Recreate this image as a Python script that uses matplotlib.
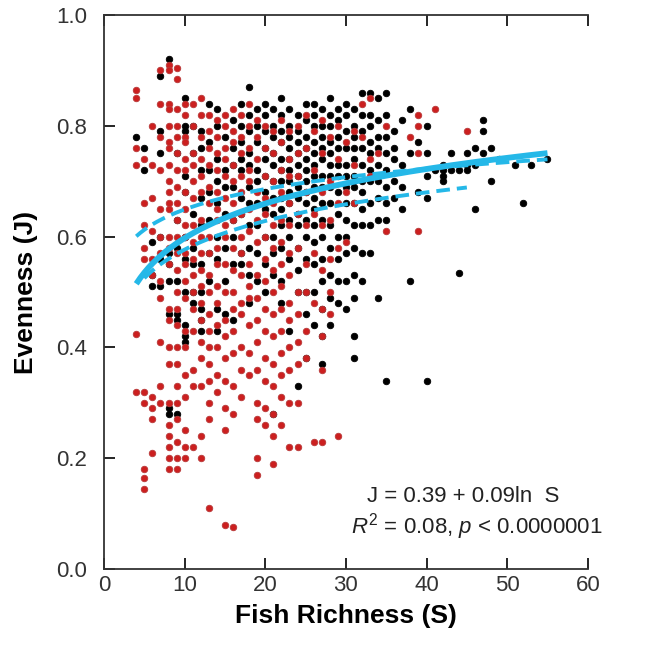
import numpy as np
import matplotlib.pyplot as plt

# Evenness (J) por riqueza (S), sitios en negro
black_J = {
    4: [0.78], 5: [0.76, 0.72], 6: [0.59, 0.53, 0.51],
    7: [0.89, 0.79, 0.75, 0.60, 0.56, 0.51], 8: [0.92, 0.57, 0.55, 0.52, 0.46, 0.29, 0.28],
    9: [0.75, 0.63, 0.58, 0.52, 0.46, 0.45, 0.28],
    10: [0.85, 0.80, 0.79, 0.71, 0.68, 0.60, 0.56, 0.50, 0.44, 0.42, 0.41],
    11: [0.80, 0.75, 0.64, 0.58, 0.55, 0.50, 0.48],
    12: [0.79, 0.76, 0.72, 0.67, 0.62, 0.55, 0.50, 0.47, 0.45, 0.43],
    13: [0.84, 0.77, 0.72, 0.68, 0.63, 0.57, 0.52],
    14: [0.83, 0.80, 0.74, 0.70, 0.66, 0.60, 0.56, 0.47, 0.43],
    15: [0.78, 0.72, 0.69, 0.64, 0.58, 0.52, 0.46],
    16: [0.81, 0.76, 0.73, 0.69, 0.63, 0.60, 0.55, 0.45],
    17: [0.84, 0.80, 0.77, 0.74, 0.72, 0.67, 0.64, 0.57, 0.55],
    18: [0.87, 0.82, 0.79, 0.75, 0.73, 0.69, 0.66, 0.62, 0.58, 0.53, 0.48],
    19: [0.83, 0.80, 0.77, 0.72, 0.70, 0.66, 0.62, 0.57, 0.52],
    20: [0.84, 0.82, 0.79, 0.76, 0.74, 0.71, 0.68, 0.65, 0.60, 0.55, 0.50],
    21: [0.83, 0.80, 0.78, 0.75, 0.73, 0.70, 0.67, 0.64, 0.60, 0.57, 0.53, 0.28],
    22: [0.85, 0.82, 0.79, 0.77, 0.74, 0.72, 0.70, 0.67, 0.65, 0.62, 0.58, 0.52, 0.48],
    23: [0.83, 0.80, 0.78, 0.76, 0.74, 0.72, 0.70, 0.68, 0.66, 0.63, 0.60, 0.56, 0.43],
    24: [0.82, 0.79, 0.77, 0.75, 0.73, 0.71, 0.69, 0.67, 0.64, 0.62, 0.58, 0.54, 0.50, 0.33],
    25: [0.84, 0.81, 0.78, 0.76, 0.74, 0.72, 0.70, 0.68, 0.66, 0.63, 0.60, 0.56, 0.50, 0.46, 0.38],
    26: [0.84, 0.82, 0.80, 0.77, 0.75, 0.73, 0.71, 0.69, 0.67, 0.65, 0.62, 0.59, 0.55, 0.50, 0.44],
    27: [0.83, 0.80, 0.78, 0.76, 0.74, 0.71, 0.69, 0.66, 0.63, 0.60, 0.56, 0.52, 0.47, 0.42, 0.37],
    28: [0.85, 0.82, 0.80, 0.77, 0.75, 0.73, 0.71, 0.69, 0.66, 0.62, 0.58, 0.53, 0.49, 0.44],
    29: [0.83, 0.81, 0.78, 0.76, 0.73, 0.71, 0.68, 0.64, 0.60, 0.56, 0.52, 0.48],
    30: [0.84, 0.82, 0.79, 0.76, 0.73, 0.71, 0.69, 0.66, 0.63, 0.60, 0.57, 0.52, 0.47],
    31: [0.83, 0.80, 0.78, 0.76, 0.74, 0.71, 0.69, 0.66, 0.62, 0.58, 0.53, 0.49, 0.42, 0.38],
    32: [0.86, 0.82, 0.79, 0.76, 0.73, 0.70, 0.68, 0.65, 0.62, 0.57, 0.52],
    33: [0.86, 0.82, 0.80, 0.77, 0.75, 0.72, 0.70, 0.66, 0.62, 0.57],
    34: [0.85, 0.81, 0.78, 0.76, 0.73, 0.70, 0.67, 0.63, 0.49],
    35: [0.86, 0.82, 0.78, 0.75, 0.72, 0.69, 0.66, 0.63, 0.34],
    36: [0.79, 0.76, 0.74, 0.70, 0.67], 37: [0.81, 0.73, 0.69, 0.65],
    38: [0.83, 0.75, 0.52], 39: [0.77, 0.68], 40: [0.80, 0.75, 0.71, 0.67, 0.34],
    41: [0.72], 42: [0.73, 0.72, 0.71, 0.70], 43: [0.75, 0.72], 44: [0.72, 0.535],
    45: [0.75, 0.73, 0.72], 46: [0.76, 0.73, 0.65], 47: [0.81, 0.79, 0.75],
    48: [0.76, 0.70], 49: [0.74], 51: [0.73], 52: [0.66], 53: [0.73], 55: [0.74],
}

# sitios en rojo
red_J = {
    4: [0.865, 0.85, 0.76, 0.73, 0.425, 0.32],
    5: [0.74, 0.66, 0.62, 0.58, 0.56, 0.32, 0.30, 0.18, 0.165, 0.145],
    6: [0.80, 0.73, 0.67, 0.61, 0.56, 0.53, 0.31, 0.29, 0.27, 0.21],
    7: [0.90, 0.84, 0.78, 0.72, 0.65, 0.60, 0.57, 0.52, 0.49, 0.41, 0.33, 0.30],
    8: [0.91, 0.90, 0.84, 0.83, 0.80, 0.77, 0.76, 0.73, 0.70, 0.68, 0.66, 0.65, 0.60, 0.58,
        0.55, 0.47, 0.45, 0.40, 0.37, 0.30, 0.26, 0.24, 0.22, 0.20, 0.18],
    9: [0.905, 0.885, 0.83, 0.80, 0.78, 0.75, 0.72, 0.69, 0.66, 0.63, 0.60, 0.57, 0.54, 0.50,
        0.47, 0.44, 0.40, 0.37, 0.33, 0.30, 0.27, 0.23, 0.20, 0.18],
    10: [0.84, 0.82, 0.78, 0.77, 0.74, 0.72, 0.68, 0.65, 0.62, 0.60, 0.57, 0.55, 0.52, 0.49,
         0.43, 0.40, 0.35, 0.31, 0.25, 0.22, 0.20],
    11: [0.84, 0.80, 0.75, 0.73, 0.70, 0.67, 0.62, 0.59, 0.56, 0.53, 0.50, 0.47, 0.43, 0.36, 0.33, 0.22],
    12: [0.85, 0.82, 0.78, 0.74, 0.71, 0.68, 0.63, 0.60, 0.57, 0.54, 0.51, 0.48, 0.45, 0.41,
         0.38, 0.33, 0.24, 0.20],
    13: [0.82, 0.79, 0.76, 0.73, 0.69, 0.66, 0.60, 0.57, 0.53, 0.50, 0.46, 0.43, 0.40, 0.37,
         0.34, 0.30, 0.27, 0.11],
    14: [0.81, 0.78, 0.75, 0.72, 0.68, 0.65, 0.63, 0.58, 0.55, 0.51, 0.48, 0.44, 0.40, 0.35, 0.32],
    15: [0.82, 0.80, 0.76, 0.74, 0.71, 0.67, 0.62, 0.60, 0.55, 0.50, 0.45, 0.42, 0.38, 0.34,
         0.29, 0.25, 0.08],
    16: [0.83, 0.79, 0.77, 0.73, 0.70, 0.66, 0.63, 0.58, 0.54, 0.50, 0.47, 0.43, 0.39, 0.33,
         0.28, 0.075],
    17: [0.82, 0.78, 0.75, 0.71, 0.68, 0.64, 0.60, 0.57, 0.53, 0.48, 0.46, 0.40, 0.36, 0.31],
    18: [0.84, 0.80, 0.76, 0.72, 0.70, 0.65, 0.61, 0.55, 0.51, 0.49, 0.44, 0.39, 0.35],
    19: [0.81, 0.78, 0.74, 0.68, 0.63, 0.59, 0.53, 0.49, 0.45, 0.41, 0.36, 0.30, 0.27, 0.20, 0.17],
    20: [0.80, 0.76, 0.71, 0.67, 0.64, 0.60, 0.56, 0.52, 0.47, 0.43, 0.38, 0.34, 0.29, 0.26],
    21: [0.79, 0.75, 0.70, 0.66, 0.62, 0.58, 0.54, 0.50, 0.46, 0.42, 0.37, 0.33, 0.28, 0.24, 0.19],
    22: [0.81, 0.77, 0.72, 0.68, 0.63, 0.59, 0.55, 0.51, 0.47, 0.43, 0.39, 0.35, 0.31, 0.26],
    23: [0.79, 0.74, 0.71, 0.66, 0.62, 0.57, 0.53, 0.48, 0.45, 0.40, 0.36, 0.30, 0.22],
    24: [0.80, 0.75, 0.71, 0.64, 0.58, 0.50, 0.46, 0.41, 0.37, 0.30, 0.22],
    25: [0.82, 0.76, 0.68, 0.62, 0.55, 0.50, 0.43, 0.38],
    26: [0.79, 0.72, 0.64, 0.57, 0.48, 0.23],
    27: [0.81, 0.75, 0.68, 0.62, 0.54, 0.47, 0.42, 0.36, 0.23],
    28: [0.78, 0.70, 0.63, 0.56, 0.50, 0.46],
    29: [0.80, 0.74, 0.66, 0.58, 0.24],
    30: [0.77, 0.68, 0.59], 31: [0.79, 0.73, 0.66], 32: [0.84, 0.78],
    33: [0.85, 0.74, 0.71], 34: [0.75], 35: [0.80, 0.61], 38: [0.78],
    39: [0.82, 0.80, 0.75, 0.61], 41: [0.83], 45: [0.79],
}

# ajustes J = a + b ln S  (a, b, S_min, S_max)
fit_all = (0.39, 0.09, 4, 55)
fit_black = (0.527, 0.053, 4, 55)
fit_red = (0.405, 0.0745, 5, 45)

x_ticks = [0, 10, 20, 30, 40, 50, 60]
y_ticks = [0.0, 0.2, 0.4, 0.6, 0.8, 1.0]

plt.rcParams['font.family'] = ['Liberation Sans', 'DejaVu Sans']
plt.rcParams['mathtext.fontset'] = 'custom'
plt.rcParams['mathtext.rm'] = 'Liberation Sans'
plt.rcParams['mathtext.it'] = 'Liberation Sans:italic'

fig = plt.figure(figsize=(6.71, 6.51), dpi=100)
ax = fig.add_axes([0.155, 0.126, 0.721, 0.851])

for d, c, ec in [(black_J, 'black', 'black'), (red_J, '#cc1f1f', '#b83a3a')]:
    xs = [s for s, js in d.items() for j in js]
    ys = [j for s, js in d.items() for j in js]
    ax.scatter(xs, ys, s=22, color=c, edgecolors=ec, linewidths=0.6, zorder=2)

cyan = '#25b8e8'
for (a, b, s0, s1), ls, lw in [(fit_black, (0, (3.5, 1.8)), 2.8),
                               (fit_red, (0, (3.5, 1.8)), 2.8),
                               (fit_all, '-', 4.2)]:
    S = np.linspace(s0, s1, 200)
    ax.plot(S, a + b * np.log(S), color=cyan, lw=lw, ls=ls, zorder=3,
            solid_capstyle='butt', dash_capstyle='butt')

ax.set_xlim(0, 60)
ax.set_ylim(0, 1.0)
ax.set_xticks(x_ticks)
ax.set_yticks(y_ticks)
ax.set_yticklabels([f'{v:.1f}' for v in y_ticks])
ax.tick_params(direction='in', length=8, width=1.2, top=True, right=False,
               labelsize=16, labelcolor='#333333')
ax.tick_params(axis='x', pad=4)
ax.tick_params(axis='y', pad=12)
ax.spines['right'].set_visible(False)
for sp in ['left', 'bottom', 'top']:
    ax.spines[sp].set_linewidth(1.3)
    ax.spines[sp].set_color('#333333')

ax.set_xlabel('Fish Richness (S)', fontsize=19, fontweight='bold', labelpad=6)
ax.set_ylabel('Evenness (J)', fontsize=19, fontweight='bold', labelpad=13)

ax.text(44.5, 0.13, 'J = 0.39 + 0.09ln  S', ha='center', va='center',
        fontsize=16, color='#222222')
ax.text(46.2, 0.076, r'$R^2$ = 0.08, $p$ < 0.0000001', ha='center', va='center',
        fontsize=16, color='#222222', clip_on=False)

fig.savefig('out.png', dpi=100)
